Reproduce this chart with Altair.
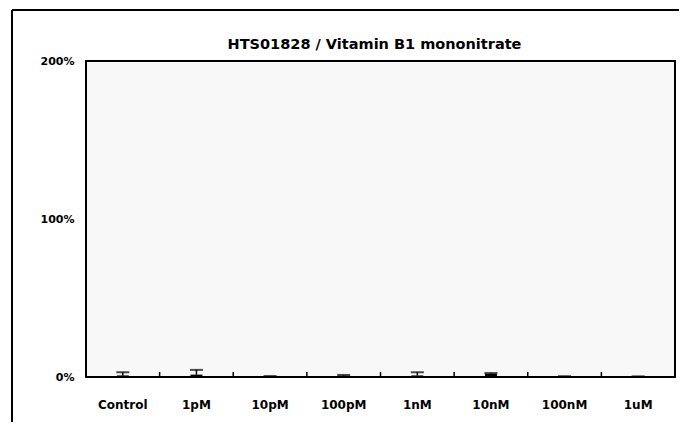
import altair as alt
import pandas as pd

categories = ["Control", "1pM", "10pM", "100pM", "1nM", "10nM", "100nM", "1uM"]
values = [1.0, 1.5, 0.3, 0.8, 1.0, 2.0, 0.3, 0.2]
errors = [2.0, 3.0, 0.3, 0.5, 2.0, 0.5, 0.2, 0.2]
title_text = "HTS01828 / Vitamin B1 mononitrate"

df = pd.DataFrame({"cat": categories, "v": values, "e": errors})
df["top"] = df["v"] + df["e"]
bounds = pd.DataFrame({"cat": categories[1:]})

W, H = 589, 316
FONT = "DejaVu Sans"
xs = alt.X("cat:N", sort=categories, title=None,
           scale=alt.Scale(paddingInner=0, paddingOuter=0),
           axis=alt.Axis(labelAngle=0, labelFont=FONT, labelFontWeight="bold",
                         labelFontSize=12, labelColor="black", ticks=False, domain=False,
                         labelPadding=22))
ys = alt.Y("v:Q", title=None,
           scale=alt.Scale(domain=[0, 200]),
           axis=alt.Axis(values=[0, 100, 200], labelExpr="datum.value + '%'",
                         labelFont=FONT, labelFontWeight="bold", labelFontSize=11,
                         labelColor="black", ticks=False, domain=False, grid=False,
                         labelPadding=12))

base = alt.Chart(df)
bars = base.mark_bar(color="black", size=12).encode(x=xs, y=ys)
rules = base.mark_rule(color="black", strokeWidth=1.5).encode(
    x=alt.X("cat:N", sort=categories), y="v:Q", y2="top:Q")
caps = base.mark_tick(color="black", thickness=2, size=13, orient="horizontal").encode(
    x=alt.X("cat:N", sort=categories), y=alt.Y("top:Q"))
bticks = alt.Chart(bounds).mark_rule(color="black", strokeWidth=1.5).encode(
    x=alt.X("cat:N", sort=categories, bandPosition=0), y=alt.value(H), y2=alt.value(H - 5))
frame_left = alt.Chart(bounds).mark_rule(color="black", strokeWidth=2).encode(
    x=alt.value(-74), y=alt.value(-51), y2=alt.value(H + 45))
frame_top = alt.Chart(bounds).mark_rule(color="black", strokeWidth=2).encode(
    x=alt.value(-74), x2=alt.value(W + 12), y=alt.value(-51))
title = alt.Chart(pd.DataFrame({"t": [title_text]})).mark_text(
    font=FONT, fontWeight="bold", fontSize=14.5, color="black", align="center",
    baseline="alphabetic").encode(x=alt.value(W / 2 - 6), y=alt.value(-12), text="t:N")

chart = alt.layer(bars, rules, caps, bticks, frame_left, frame_top, title).properties(
    width=W, height=H,
    autosize=alt.AutoSizeParams(type="none"),
    padding={"left": 78, "top": 53, "right": 4, "bottom": 45},
).configure_view(stroke="black", strokeWidth=2, fill="#f8f8f8")

chart.save("out.html", embed_options={"renderer": "svg", "actions": False})
